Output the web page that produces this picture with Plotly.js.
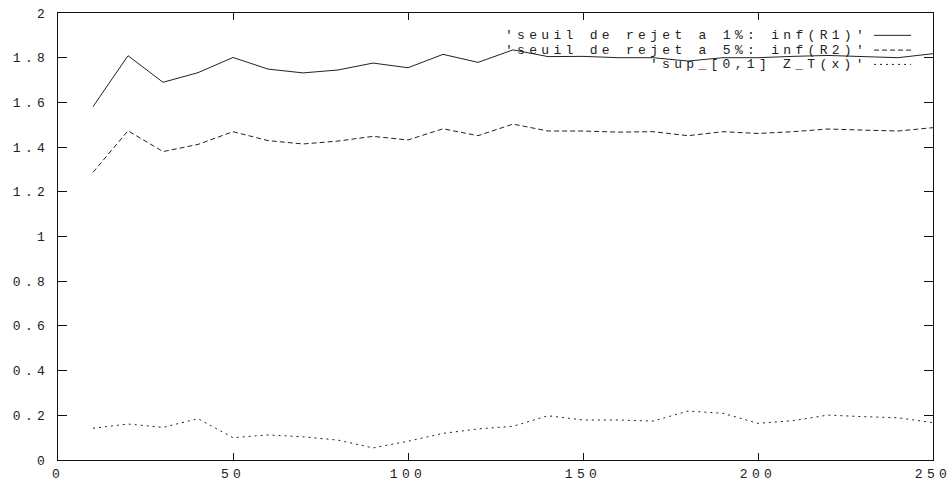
<!DOCTYPE html>
<html>
<head>
<meta charset="utf-8">
<script src="https://cdn.plot.ly/plotly-3.0.1.min.js"></script>
<style>
html, body { margin: 0; padding: 0; background: #fff; }
#chart { width: 951px; height: 482px; }
text { letter-spacing: 4.3px; }
</style>
</head>
<body>
<div id="chart"></div>
<script>
// Data
var xValues = [10, 20, 30, 40, 50, 60, 70, 80, 90, 100, 110, 120, 130, 140, 150, 160, 170, 180, 190, 200, 210, 220, 230, 240, 250];
var seuil1 = [1.581, 1.809, 1.690, 1.733, 1.801, 1.749, 1.732, 1.745, 1.776, 1.755, 1.815, 1.779, 1.835, 1.805, 1.806, 1.800, 1.800, 1.785, 1.800, 1.800, 1.806, 1.810, 1.805, 1.800, 1.818];
var seuil5 = [1.287, 1.473, 1.380, 1.412, 1.469, 1.429, 1.414, 1.427, 1.448, 1.432, 1.482, 1.451, 1.503, 1.472, 1.472, 1.467, 1.469, 1.451, 1.469, 1.461, 1.469, 1.481, 1.476, 1.472, 1.487];
var supZ = [0.142, 0.161, 0.146, 0.185, 0.100, 0.112, 0.104, 0.089, 0.054, 0.084, 0.119, 0.139, 0.151, 0.198, 0.179, 0.179, 0.174, 0.219, 0.209, 0.164, 0.176, 0.201, 0.194, 0.189, 0.167];
var seriesNames = ["'seuil de rejet a 1%: inf(R1)'", "'seuil de rejet a 5%: inf(R2)'", "'sup_[0,1] Z_T(x)'"];
var seriesDash = ["solid", "5px,3px", "2px,4px"];
var seriesValues = [seuil1, seuil5, supZ];

var lineColor = '#222222';
var font = {family: 'Liberation Mono, Courier New, monospace', size: 13, color: '#222222'};

var traces = seriesValues.map(function (vals, i) {
  return {
    x: xValues, y: vals, type: 'scatter', mode: 'lines', name: seriesNames[i],
    line: {color: lineColor, width: 1, dash: seriesDash[i]}, showlegend: false,
    hoverinfo: 'x+y'
  };
});

// legend drawn gnuplot-style: right-aligned text, line sample on its right
var legendY = [0.950, 0.917, 0.885];
var annotations = seriesNames.map(function (n, i) {
  return {
    xref: 'paper', yref: 'paper', x: 0.927, y: legendY[i], xanchor: 'right', yanchor: 'middle',
    text: n, showarrow: false, font: font, borderpad: 0
  };
});
var shapes = seriesNames.map(function (n, i) {
  return {
    type: 'line', xref: 'paper', yref: 'paper', x0: 0.9326, x1: 0.9749, y0: legendY[i], y1: legendY[i],
    line: {color: lineColor, width: 1, dash: seriesDash[i]}
  };
});

var axisCommon = {
  showgrid: false, zeroline: false, showline: true, mirror: 'ticks',
  linecolor: '#111111', linewidth: 1.3, ticks: 'inside', tickcolor: '#111111',
  tickwidth: 1, tickfont: font, ticklabeloverflow: 'allow'
};

var layout = {
  width: 951, height: 482,
  margin: {l: 58, r: 18, t: 13, b: 22},
  paper_bgcolor: '#ffffff', plot_bgcolor: '#ffffff',
  xaxis: Object.assign({}, axisCommon, {range: [0, 250], dtick: 50, tick0: 0, ticklen: 7, ticklabelstandoff: 1}),
  yaxis: Object.assign({}, axisCommon, {range: [0, 2], dtick: 0.2, tick0: 0, ticklen: 9, ticklabelstandoff: 5}),
  annotations: annotations,
  shapes: shapes,
  showlegend: false
};

Plotly.newPlot('chart', traces, layout, {displayModeBar: false, staticPlot: true});
</script>
</body>
</html>
